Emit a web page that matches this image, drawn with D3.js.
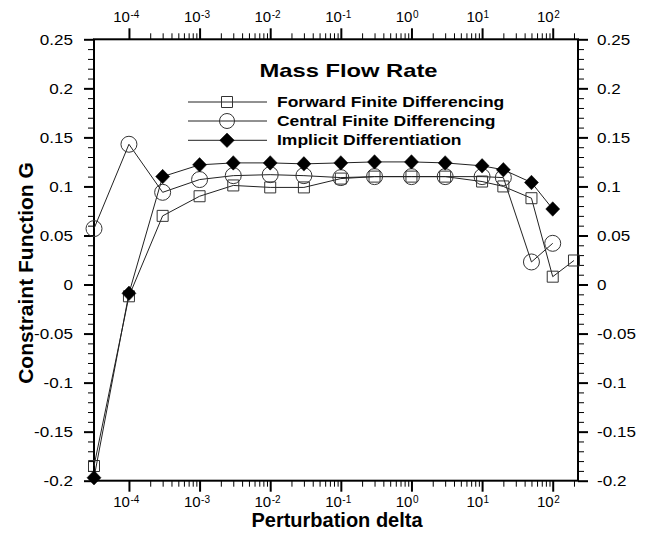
<!DOCTYPE html>
<html>
<head>
<meta charset="utf-8">
<script src="https://cdn.jsdelivr.net/npm/d3@7/dist/d3.min.js"></script>
<style>
  html, body { margin: 0; padding: 0; background: #fff; }
  svg { display: block; }
  text { font-family: "Liberation Sans", Arial, Helvetica, sans-serif; fill: #000; }
</style>
</head>
<body>
<svg id="chart" width="650" height="540"></svg>
<script>
// ---- data ----
const deltas   = [3.2e-5, 1e-4, 3e-4, 1e-3, 3e-3, 1e-2, 3e-2, 1e-1, 3e-1, 1, 3, 10, 20, 50, 100, 200];
const forwardFD  = [-0.185, -0.012, 0.070, 0.090, 0.101, 0.099, 0.099, 0.108, 0.110, 0.110, 0.110, 0.105, 0.100, 0.088, 0.008, 0.0245];
const centralFD  = [0.057, 0.143, 0.094, 0.107, 0.111, 0.112, 0.111, 0.109, 0.110, 0.110, 0.110, 0.110, 0.109, 0.023, 0.042];
const implicitD  = [-0.197, -0.009, 0.110, 0.122, 0.124, 0.124, 0.123, 0.124, 0.125, 0.125, 0.124, 0.121, 0.117, 0.104, 0.077];
const seriesNames = ["Forward Finite Differencing", "Central Finite Differencing", "Implicit Differentiation"];
const titleText = "Mass Flow Rate";
const xTitle = "Perturbation delta";
const yTitle = "Constraint Function G";
const xMajorExps = [-4, -3, -2, -1, 0, 1, 2];
const xMinorTicks = [];
[-4, -3, -2, -1, 0, 1].forEach(e => { for (let m = 2; m <= 9; m++) xMinorTicks.push(m * Math.pow(10, e)); });
xMinorTicks.push(200);
const yMajorTicks = [0.25, 0.2, 0.15, 0.1, 0.05, 0, -0.05, -0.1, -0.15, -0.2];
const yTickLabels = ["0.25", "0.2", "0.15", "0.1", "0.05", "0", "-0.05", "-0.1", "-0.15", "-0.2"];
const yMinorTicks = d3.range(-20, 26, 1).filter(v => v % 5 !== 0).map(v => v / 100);

// ---- layout ----
const L = 94, R = 578, T = 39.3, B = 480.7;
const svg = d3.select("#chart");
const x = d3.scaleLog().domain([3.2e-5, 228]).range([L, R]);
const y = d3.scaleLinear().domain([-0.2, 0.25]).range([B, T]);

function styleAxis(g, w) {
  g.select(".domain").remove();
  g.selectAll(".tick line").attr("stroke", "#000").attr("stroke-width", w);
}
// x axes (top & bottom)
svg.append("g").attr("transform", `translate(0,${T})`)
  .call(d3.axisTop(x).tickValues(xMinorTicks).tickSize(6).tickFormat("")).call(g => styleAxis(g, 1));
svg.append("g").attr("transform", `translate(0,${T})`)
  .call(d3.axisTop(x).tickValues(xMajorExps.map(e => Math.pow(10, e))).tickSize(11).tickFormat("")).call(g => styleAxis(g, 2));
svg.append("g").attr("transform", `translate(0,${B})`)
  .call(d3.axisBottom(x).tickValues(xMinorTicks).tickSize(6).tickFormat("")).call(g => styleAxis(g, 1));
svg.append("g").attr("transform", `translate(0,${B})`)
  .call(d3.axisBottom(x).tickValues(xMajorExps.map(e => Math.pow(10, e))).tickSize(11).tickFormat("")).call(g => styleAxis(g, 2));
// y axes (left & right)
svg.append("g").attr("transform", `translate(${L},0)`)
  .call(d3.axisLeft(y).tickValues(yMinorTicks).tickSize(6).tickFormat("")).call(g => styleAxis(g, 1));
svg.append("g").attr("transform", `translate(${L},0)`)
  .call(d3.axisLeft(y).tickValues(yMajorTicks).tickSize(10).tickFormat("")).call(g => styleAxis(g, 2));
svg.append("g").attr("transform", `translate(${R},0)`)
  .call(d3.axisRight(y).tickValues(yMinorTicks).tickSize(6).tickFormat("")).call(g => styleAxis(g, 1));
svg.append("g").attr("transform", `translate(${R},0)`)
  .call(d3.axisRight(y).tickValues(yMajorTicks).tickSize(10).tickFormat("")).call(g => styleAxis(g, 2));

// frame
svg.append("rect").attr("x", L).attr("y", T).attr("width", R - L).attr("height", B - T)
  .attr("fill", "none").attr("stroke", "#000").attr("stroke-width", 2);

// x tick labels (10^n)
function xLabel(e, base) {
  const tx = x(Math.pow(10, e));
  svg.append("text").attr("x", tx + 1).attr("y", base).attr("text-anchor", "end")
    .attr("font-size", 15).text("10");
  svg.append("text").attr("x", tx + 1.5).attr("y", base - 4).attr("text-anchor", "start")
    .attr("font-size", 10).text(String(e));
}
xMajorExps.forEach(e => { xLabel(e, 22); xLabel(e, 507); });

// y tick labels (left & right)
yMajorTicks.forEach((v, i) => {
  svg.append("g").attr("transform", `translate(${L - 21},${y(v) + 5.3}) scale(1.22,1)`)
    .append("text").attr("text-anchor", "end").attr("font-size", 14).text(yTickLabels[i]);
  svg.append("g").attr("transform", `translate(${R + 19},${y(v) + 5.3}) scale(1.22,1)`)
    .append("text").attr("text-anchor", "start").attr("font-size", 14).text(yTickLabels[i]);
});

// axis titles
svg.append("text").attr("x", 337).attr("y", 527).attr("text-anchor", "middle")
  .attr("font-size", 20).attr("font-weight", "bold").text(xTitle);
svg.append("text").attr("transform", `translate(33,273) rotate(-90)`).attr("text-anchor", "middle")
  .attr("font-size", 21).attr("font-weight", "bold").text(yTitle);

// markers
function squarePath(cx, cy, s) { const h = s / 2; return `M${cx - h},${cy - h}h${s}v${s}h${-s}Z`; }
function diamondPath(cx, cy, w, h) { return `M${cx},${cy - h / 2}L${cx + w / 2},${cy}L${cx},${cy + h / 2}L${cx - w / 2},${cy}Z`; }

const line = d3.line().x(d => x(d[0])).y(d => y(d[1]));
const series = [
  { vals: forwardFD, kind: "square" },
  { vals: centralFD, kind: "circle" },
  { vals: implicitD, kind: "diamond" }
];
function drawMarker(g, kind, cx, cy, big) {
  if (kind === "square") {
    g.append("path").attr("d", squarePath(cx, cy, 11)).attr("fill", "none").attr("stroke", "#333").attr("stroke-width", 1);
  } else if (kind === "circle") {
    g.append("circle").attr("cx", cx).attr("cy", cy).attr("r", big ? 8 : 7.5).attr("fill", "none").attr("stroke", "#333").attr("stroke-width", 1);
  } else {
    g.append("path").attr("d", diamondPath(cx, cy, big ? 14 : 14.5, big ? 14.5 : 14.5)).attr("fill", "#000").attr("stroke", "#000").attr("stroke-width", 0.5);
  }
}
series.forEach(s => {
  const pts = s.vals.map((v, i) => [deltas[i], v]);
  const g = svg.append("g");
  g.append("path").attr("d", line(pts)).attr("fill", "none").attr("stroke", "#222").attr("stroke-width", 1);
  pts.forEach(p => drawMarker(g, s.kind, x(p[0]), y(p[1]), true));
});

// title and legend
svg.append("g").attr("transform", `translate(348.5,76.7) scale(1.25,1)`)
  .append("text").attr("text-anchor", "middle").attr("font-size", 19).attr("font-weight", "bold").text(titleText);
const legendY = [102, 121, 140.3];
series.forEach((s, i) => {
  const g = svg.append("g");
  g.append("line").attr("x1", 188).attr("x2", 267).attr("y1", legendY[i]).attr("y2", legendY[i])
    .attr("stroke", "#222").attr("stroke-width", 1);
  drawMarker(g, s.kind, 227, legendY[i], false);
  g.append("g").attr("transform", `translate(277,${legendY[i] + 5}) scale(1.25,1)`)
    .append("text").attr("font-size", 14).attr("font-weight", "bold").text(seriesNames[i]);
});
</script>
</body>
</html>
